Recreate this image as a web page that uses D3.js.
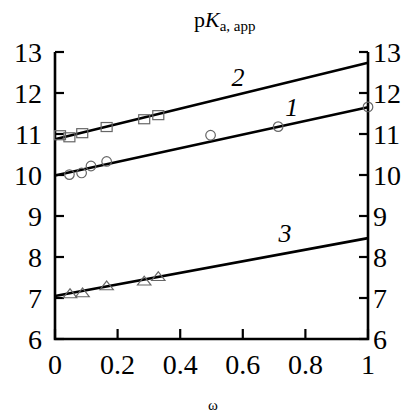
<!DOCTYPE html>
<html><head><meta charset="utf-8">
<script src="https://cdn.jsdelivr.net/npm/d3@7"></script>
<style>body{margin:0;background:#fff}svg{display:block}
svg text{font-family:"Liberation Serif","Times New Roman",Times,"DejaVu Serif",serif;}</style>
</head><body>
<script>
const xTicks = [0, 0.2, 0.4, 0.6, 0.8, 1];
const xTickLabels = ["0", "0.2", "0.4", "0.6", "0.8", "1"];
const yTicks = [6, 7, 8, 9, 10, 11, 12, 13];
// series 1: circles
const s1x = [0.046, 0.085, 0.115, 0.165, 0.497, 0.713, 1.0];
const s1y = [10.01, 10.05, 10.22, 10.33, 10.97, 11.18, 11.66];
const fit1 = [[0, 9.99], [1, 11.65]];
// series 2: squares
const s2x = [0.016, 0.046, 0.087, 0.165, 0.285, 0.33];
const s2y = [10.97, 10.92, 11.02, 11.17, 11.36, 11.46];
const fit2 = [[0, 10.87], [1, 12.74]];
// series 3: triangles
const s3x = [0.048, 0.088, 0.165, 0.285, 0.33];
const s3y = [7.08, 7.1, 7.27, 7.39, 7.5];
const fit3 = [[0, 7.05], [1, 8.46]];
const curveLabels = [{t:"2", x:0.585, y:12.17}, {t:"1", x:0.756, y:11.44}, {t:"3", x:0.735, y:8.37}];

const W = 404, H = 415;
const svg = d3.select("body").append("svg").attr("width", W).attr("height", H);
const x = d3.scaleLinear().domain([0, 1]).range([55, 368]);
const y = d3.scaleLinear().domain([6, 13]).range([339, 52]);

// axes
const tl = 9;
const g = svg.append("g");
g.append("path").attr("d", `M${x(0)},${y(13)}V${y(6)}H${x(1)}V${y(13)}`)
  .attr("fill", "none").attr("stroke", "#000").attr("stroke-width", 2.6);
yTicks.forEach(v => {
  g.append("line").attr("x1", x(0)).attr("x2", x(0) + tl).attr("y1", y(v)).attr("y2", y(v)).attr("stroke", "#000").attr("stroke-width", 2.2);
  g.append("line").attr("x1", x(1)).attr("x2", x(1) - tl).attr("y1", y(v)).attr("y2", y(v)).attr("stroke", "#000").attr("stroke-width", 2.2);
  g.append("text").attr("x", 42).attr("y", y(v) + 10).attr("text-anchor", "end")
    .attr("font-size", 28).text(v);
  g.append("text").attr("x", 373).attr("y", y(v) + 10).attr("text-anchor", "start")
    .attr("font-size", 28).text(v);
});
xTicks.forEach((v, i) => {
  g.append("line").attr("x1", x(v)).attr("x2", x(v)).attr("y1", y(6)).attr("y2", y(6) - 10).attr("stroke", "#000").attr("stroke-width", 2.2);
  g.append("text").attr("x", x(v)).attr("y", 374).attr("text-anchor", "middle")
    .attr("font-size", 28).text(xTickLabels[i]);
});

// title
const title = svg.append("text").attr("x", 194).attr("y", 27).attr("font-size", 22);
title.append("tspan").text("p");
title.append("tspan").attr("font-style", "italic").text("K");
title.append("tspan").attr("font-size", 15).attr("dy", 4).text("a, app");

// x label
svg.append("text").attr("x", 213).attr("y", 410).attr("text-anchor", "middle")
  .attr("font-size", 15).text("ω");

// fit lines
const line = d3.line().x(d => x(d[0])).y(d => y(d[1]));
[fit1, fit2, fit3].forEach(f => {
  svg.append("path").attr("d", line(f)).attr("fill", "none").attr("stroke", "#000").attr("stroke-width", 2.6);
});

const mk = "#666";
s1x.forEach((v, i) => {
  svg.append("circle").attr("cx", x(v)).attr("cy", y(s1y[i])).attr("r", 4.8)
    .attr("fill", "none").attr("stroke", mk).attr("stroke-width", 1.2);
});
s2x.forEach((v, i) => {
  svg.append("rect").attr("x", x(v) - 5.5).attr("y", y(s2y[i]) - 4.5).attr("width", 11).attr("height", 9)
    .attr("fill", "none").attr("stroke", mk).attr("stroke-width", 1.2);
});
const tri = d3.symbol().type(d3.symbolTriangle).size(55);
s3x.forEach((v, i) => {
  svg.append("path").attr("d", tri()).attr("transform", `translate(${x(v)},${y(s3y[i])}) scale(1.2,0.9)`)
    .attr("fill", "none").attr("stroke", mk).attr("stroke-width", 1.1);
});

curveLabels.forEach(c => {
  svg.append("text").attr("x", x(c.x)).attr("y", y(c.y)).attr("text-anchor", "middle")
    .attr("font-style", "italic").attr("font-size", 26).text(c.t);
});
</script>
</body></html>
